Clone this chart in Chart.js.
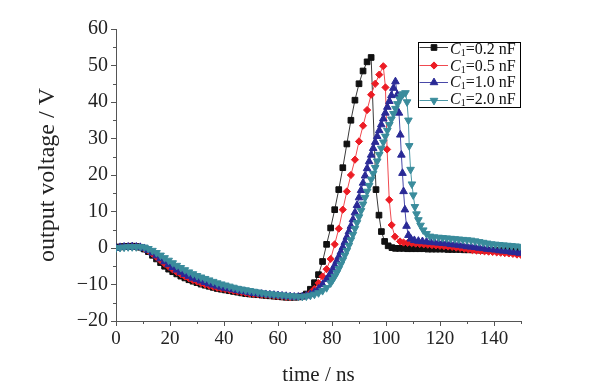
<!DOCTYPE html>
<html><head><meta charset="utf-8">
<script src="https://cdn.jsdelivr.net/npm/chart.js@4/dist/chart.umd.min.js"></script>
<style>html,body{margin:0;padding:0;background:#fff}#wrap{width:595px;height:391px}</style>
</head><body><div id="wrap"><canvas id="c" width="595" height="391"></canvas></div>
<script>
// ---- data (time in ns, voltage in V) ----
const seriesLabels = ['0.2', '0.5', '1.0', '2.0'];

const timeBlack = [0,1.5,3,4.5,6,7.5,9,10.5,12,13.5,15,16.5,18,19.5,21,22.5,24,25.5,27,28.5,30,31.5,33,34.5,36,37.5,39,40.5,42,43.5,45,46.5,48,49.5,51,52.5,54,55.5,57,58.5,60,61.5,63,64.5,66,67.5,69,70.5,72,73.5,75,76.5,78,79.5,81,82.5,84,85.5,87,88.5,90,91.5,93,94.5,
  96.3,97.4,98.3,99.5,100.8,102.2,
  103.5,105,106.5,108,109.5,111,112.5,114,115.5,117,118.5,120,121.5,123,124.5,126,127.5,129,130.5,132,133.5,135,136.5,138,139.5,141,142.5,144,145.5,147,148.5,150];
const voltsBlack = [0.2,0.3,0.4,0.4,0.5,0.4,0.2,-0.3,-1.0,-2.0,
  -3.0,-4.0,-5.0,-5.8,-6.5,-7.1,-7.7,-8.2,-8.7,-9.1,
  -9.5,-9.9,-10.2,-10.5,-10.8,-11.1,-11.3,-11.5,-11.7,-11.9,
  -12.1,-12.3,-12.5,-12.6,-12.7,-12.8,-12.9,-13.0,-13.1,-13.2,
  -13.3,-13.4,-13.5,-13.5,-13.5,-13.4,-13.2,-12.6,-11.3,-9.5,
  -7.3,-3.7,1.0,5.5,10.5,16.0,22.0,28.5,35.0,40.5,
  45.0,48.5,51.0,52.2,
  16,9,4.5,1.8,0.6,0.1,
  -0.1,-0.1,-0.1,-0.2,-0.2,-0.2,-0.2,-0.2,-0.3,-0.3,-0.3,-0.3,-0.3,-0.4,-0.4,-0.4,-0.4,-0.5,-0.5,-0.5,-0.5,-0.6,-0.6,-0.6,-0.6,-0.7,-0.7,-0.7,-0.7,-0.8,-0.8,-0.8];

const timeRed = [0,1.5,3,4.5,6,7.5,9,10.5,12,13.5,15,16.5,18,19.5,21,22.5,24,25.5,27,28.5,30,31.5,33,34.5,36,37.5,39,40.5,42,43.5,45,46.5,48,49.5,51,52.5,54,55.5,57,58.5,60,61.5,63,64.5,66,67.5,69,70.5,72,73.5,75,76.5,78,79.5,81,82.5,84,85.5,87,88.5,90,91.5,93,94.5,96,97.5,99,
  99.8,100.4,101.2,102.1,103.3,105.2,
  106.5,108,109.5,111,112.5,114,115.5,117,118.5,120,121.5,123,124.5,126,127.5,129,130.5,132,133.5,135,136.5,138,139.5,141,142.5,144,145.5,147,148.5,150];
const voltsRed = [0.1,0.2,0.3,0.4,0.4,0.3,0.2,-0.2,-0.8,-1.6,
  -2.5,-3.4,-4.3,-5.1,-5.9,-6.6,-7.2,-7.8,-8.3,-8.8,
  -9.2,-9.6,-10.0,-10.3,-10.6,-10.9,-11.1,-11.3,-11.5,-11.7,
  -11.9,-12.1,-12.3,-12.5,-12.6,-12.7,-12.8,-12.9,-13.0,-13.1,
  -13.2,-13.3,-13.4,-13.5,-13.5,-13.5,-13.3,-13.0,-12.3,-11.2,
  -9.6,-7.8,-5.8,-3.0,1.0,5.3,10.5,15.5,20.0,24.2,
  29.2,33.5,37.8,42.0,45.0,47.5,49.8,
  44,27,13.2,6.3,3.1,1.8,
  1.5,1.4,1.3,1.2,1.1,1.0,0.9,0.8,0.7,0.6,0.5,0.4,0.3,0.1,0.0,-0.2,-0.4,-0.6,-0.7,-0.8,-0.9,-1.0,-1.1,-1.2,-1.3,-1.4,-1.5,-1.6,-1.8,-1.9];

const timeBlue = [0,1.5,3,4.5,6,7.5,9,10.5,12,13.5,15,16.5,18,19.5,21,22.5,24,25.5,27,28.5,30,31.5,33,34.5,36,37.5,39,40.5,42,43.5,45,46.5,48,49.5,51,52.5,54,55.5,57,58.5,60,61.5,63,64.5,66,67.5,69,70.5,72,73.5,75,76.5,
  78,78.75,79.5,80.25,81,81.75,82.5,83.25,84,84.75,85.5,86.25,87,87.75,88.5,89.25,90,90.75,91.5,92.25,93,93.75,94.5,95.25,96,96.75,97.5,98.25,99,99.75,100.5,101.25,102,102.75,
  103.5,104.2,104.8,105.3,105.7,106.1,106.5,107.0,107.6,108.3,109.2,110.5,
  112,113.5,115,116.5,118,119.5,121,122.5,124,125.5,127,128.5,130,131.5,133,134.5,136,137.5,139,140.5,142,143.5,145,146.5,148,149.5];
const voltsBlue = [0.0,0.2,0.3,0.3,0.4,0.3,0.2,-0.1,-0.6,-1.3,
  -2.1,-2.9,-3.7,-4.5,-5.3,-6.0,-6.6,-7.2,-7.7,-8.2,
  -8.6,-9.0,-9.4,-9.8,-10.1,-10.4,-10.7,-11.0,-11.2,-11.4,
  -11.6,-11.8,-12.0,-12.2,-12.4,-12.5,-12.6,-12.7,-12.8,-12.9,
  -13.0,-13.1,-13.2,-13.3,-13.4,-13.4,-13.3,-13.1,-12.7,-12.1,
  -11.2,-10.0,
  -8.6,-7.8,-7.0,-5.9,-4.8,-3.6,-2.4,-1.1,0.2,1.6,3.0,4.5,6.0,7.8,9.7,11.7,13.8,15.8,17.8,19.8,21.8,23.7,25.5,27.3,29.0,30.6,32.2,33.8,35.4,37.0,38.6,40.2,41.8,43.8,
  45.6,42,37,31,25.5,20.5,15.5,10.5,6,3.5,2.5,2.1,
  1.9,1.8,1.7,1.6,1.5,1.4,1.3,1.2,1.0,0.9,0.8,0.6,0.4,0.3,0.2,0.0,-0.1,-0.3,-0.4,-0.5,-0.7,-0.8,-0.9,-1.1,-1.2,-1.4];

const timeTeal = [0,1.5,3,4.5,6,7.5,9,10.5,12,13.5,15,16.5,18,19.5,21,22.5,24,25.5,27,28.5,30,31.5,33,34.5,36,37.5,39,40.5,42,43.5,45,46.5,48,49.5,51,52.5,54,55.5,57,58.5,60,61.5,63,64.5,66,67.5,69,70.5,72,73.5,75,76.5,78,
  79.5,80.25,81,81.75,82.5,83.25,84,84.75,85.5,86.25,87,87.75,88.5,89.25,90,90.75,91.5,92.25,93,93.75,94.5,95.25,96,96.75,97.5,98.25,99,99.75,100.5,101.25,102,102.75,103.5,104.25,105,
  105.65,106.3,107.2,107.8,108.3,108.6,109.1,109.6,110.1,110.7,111.3,112.0,112.8,113.8,115.0,116.3,117.8,
  119.5,121,122.5,124,125.5,127,128.5,130,131.5,133,134.5,136,137.5,139,140.5,142,143.5,145,146.5,148,149.5];
const voltsTeal = [0.0,0.1,0.2,0.3,0.3,0.3,0.3,0.2,-0.2,-0.7,
  -1.3,-2.0,-2.7,-3.4,-4.1,-4.8,-5.4,-6.0,-6.6,-7.1,
  -7.6,-8.0,-8.4,-8.8,-9.2,-9.6,-9.9,-10.2,-10.5,-10.8,
  -11.1,-11.3,-11.5,-11.7,-11.9,-12.1,-12.3,-12.5,-12.6,-12.7,
  -12.8,-12.9,-13.0,-13.1,-13.2,-13.3,-13.3,-13.2,-13.0,-12.7,
  -12.3,-11.7,-10.9,
  -9.6,-8.7,-7.8,-6.8,-5.7,-4.5,-3.3,-2.0,-0.7,0.7,2.2,3.7,5.3,6.9,8.5,10.2,12.0,13.8,15.5,17.1,18.8,20.4,22.0,23.8,25.6,27.3,29.0,30.6,32.2,33.8,35.3,36.8,38.2,39.5,40.8,
  41.6,42.2,42.5,40.0,35.0,28.0,21.5,17.5,14.5,11.3,9.3,7.7,6.2,4.9,3.9,3.2,3.0,
  2.9,2.8,2.7,2.6,2.5,2.4,2.3,2.2,2.1,1.9,1.7,1.5,1.3,1.1,1.0,0.9,0.8,0.7,0.6,0.5,0.4];

const xMajorTicks = [0, 20, 40, 60, 80, 100, 120, 140];
const xMinorTicks = [10, 30, 50, 70, 90, 110, 130, 150];
const yMajorTicks = [-20, -10, 0, 10, 20, 30, 40, 50, 60];
const yMinorTicks = [-15, -5, 5, 15, 25, 35, 45, 55];

// ---- build ----
function pts(t, v) { const n = Math.min(t.length, v.length); const o = []; for (let i = 0; i < n; i++) o.push({x: t[i], y: v[i]}); return o; }

const styles = [
  {marker: '#111111', line: '#3a3a3a', shape: 'rect', r: 4.0, rot: 0},
  {marker: '#ec1c24', line: '#f04a50', shape: 'rectRot', r: 3.6, rot: 0},
  {marker: '#2a2a96', line: '#4848a8', shape: 'triangle', r: 4.4, rot: 0},
  {marker: '#3a8c9c', line: '#4b98a6', shape: 'triangle', r: 4.4, rot: 180}
];
const seriesData = [pts(timeBlack, voltsBlack), pts(timeRed, voltsRed), pts(timeBlue, voltsBlue), pts(timeTeal, voltsTeal)];

const datasets = seriesData.map((d, i) => ({
  label: 'C1=' + seriesLabels[i] + ' nF',
  data: d,
  showLine: true,
  borderColor: styles[i].line,
  borderWidth: 1,
  backgroundColor: styles[i].marker,
  pointBackgroundColor: styles[i].marker,
  pointBorderColor: styles[i].marker,
  pointBorderWidth: 1,
  pointStyle: styles[i].shape,
  pointRadius: styles[i].r,
  pointRotation: styles[i].rot,
  tension: 0,
  order: 3 - i
}));

const SERIF = "'Liberation Serif', 'Times New Roman', serif";
const AXIS = '#555555';
const TEXT = '#222222';

function drawShape(ctx, shape, x, y, r, rot) {
  ctx.beginPath();
  if (shape === 'rect') {
    const s = r * Math.SQRT1_2;
    ctx.rect(x - s, y - s, 2 * s, 2 * s);
  } else if (shape === 'rectRot') {
    ctx.moveTo(x - r, y); ctx.lineTo(x, y - r); ctx.lineTo(x + r, y); ctx.lineTo(x, y + r); ctx.closePath();
  } else {
    let a = rot * Math.PI / 180;
    ctx.moveTo(x + Math.sin(a) * r, y - Math.cos(a) * r);
    a += 2 * Math.PI / 3; ctx.lineTo(x + Math.sin(a) * r, y - Math.cos(a) * r);
    a += 2 * Math.PI / 3; ctx.lineTo(x + Math.sin(a) * r, y - Math.cos(a) * r);
    ctx.closePath();
  }
  ctx.fill(); ctx.stroke();
}

const extras = {
  id: 'extras',
  afterDraw(chart) {
    const ctx = chart.ctx, xs = chart.scales.x, ys = chart.scales.y, ca = chart.chartArea;
    ctx.save();
    // minor ticks
    ctx.strokeStyle = AXIS; ctx.lineWidth = 1;
    ctx.beginPath();
    xMinorTicks.forEach(v => { const px = Math.round(xs.getPixelForValue(v)) + 0.5; ctx.moveTo(px, ca.bottom); ctx.lineTo(px, ca.bottom + 3); });
    yMinorTicks.forEach(v => { const py = Math.round(ys.getPixelForValue(v)) + 0.5; ctx.moveTo(ca.left, py); ctx.lineTo(ca.left - 3, py); });
    ctx.stroke();

    // legend box
    const L = 418.5, T = 42.5, R = 520.5, B = 107.5;
    ctx.fillStyle = '#ffffff';
    ctx.fillRect(L, T, R - L, B - T);
    ctx.strokeStyle = '#000'; ctx.lineWidth = 1;
    ctx.strokeRect(L, T, R - L, B - T);
    for (let i = 0; i < 4; i++) {
      const y = Math.round(47 + 17.6 * i) + 0.5;
      const st = styles[i];
      ctx.strokeStyle = st.line; ctx.lineWidth = 1;
      ctx.beginPath(); ctx.moveTo(L + 1, y); ctx.lineTo(448, y); ctx.stroke();
      ctx.fillStyle = st.marker; ctx.strokeStyle = st.marker;
      drawShape(ctx, st.shape, 434, y, st.r, st.rot);
      // text
      const base = Math.round(54 + 16.7 * i);
      let x = 450;
      ctx.fillStyle = '#111'; ctx.textBaseline = 'alphabetic'; ctx.textAlign = 'left';
      ctx.font = 'italic 16px ' + SERIF;
      ctx.fillText('C', x, base); x += ctx.measureText('C').width;
      ctx.font = '10px ' + SERIF;
      ctx.fillText('1', x, base + 2); x += ctx.measureText('1').width;
      ctx.font = '16px ' + SERIF;
      ctx.fillText('=' + seriesLabels[i] + ' nF', x, base);
    }
    ctx.restore();
  }
};

new Chart(document.getElementById('c'), {
  type: 'scatter',
  data: {datasets},
  plugins: [extras],
  options: {
    responsive: false,
    animation: false,
    events: [],
    layout: {padding: {top: 29, right: 74, left: 0, bottom: 0}},
    plugins: {legend: {display: false}, tooltip: {enabled: false}},
    scales: {
      x: {
        type: 'linear', min: 0, max: 150,
        afterBuildTicks(s) { s.ticks = xMajorTicks.map(v => ({value: v})); },
        afterFit(s) { s.height = 70; },
        ticks: {font: {family: SERIF, size: 19}, color: TEXT, padding: 2, maxRotation: 0, autoSkip: false},
        grid: {display: true, drawOnChartArea: false, drawTicks: true, tickLength: 5, color: AXIS},
        border: {display: true, color: AXIS, width: 1},
        title: {display: true, text: 'time / ns', font: {family: SERIF, size: 21}, color: TEXT, padding: {top: 0, bottom: 3}}
      },
      y: {
        type: 'linear', min: -20, max: 60,
        afterBuildTicks(s) { s.ticks = yMajorTicks.map(v => ({value: v})); },
        afterFit(s) { s.width = 116; },
        ticks: {font: {family: SERIF, size: 20}, color: TEXT, padding: 3, autoSkip: false,
          callback: v => (v < 0 ? '\u2212' + Math.abs(v) : String(v))},
        grid: {display: true, drawOnChartArea: false, drawTicks: true, tickLength: 5, color: AXIS},
        border: {display: true, color: AXIS, width: 1},
        title: {display: true, text: 'output voltage / V', font: {family: SERIF, size: 24}, color: TEXT, padding: {top: 33, bottom: 0}}
      }
    }
  }
});
</script>
</body></html>
